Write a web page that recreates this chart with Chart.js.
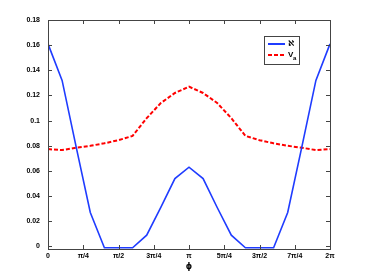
<!DOCTYPE html>
<html>
<head>
<meta charset="utf-8">
<script src="https://cdn.jsdelivr.net/npm/chart.js@4.4.0/dist/chart.umd.min.js"></script>
<style>
  html, body { margin: 0; padding: 0; background: #fff; }
  #wrap { width: 366px; height: 280px; }
</style>
</head>
<body>
<div id="wrap"><canvas id="myChart" width="366" height="280"></canvas></div>
<script>
// phi sample points, as multiples of pi
var phiOverPi = [0, 0.1, 0.2, 0.3, 0.4, 0.5, 0.6, 0.7, 0.8, 0.9, 1.0,
                 1.1, 1.2, 1.3, 1.4, 1.5, 1.6, 1.7, 1.8, 1.9, 2.0];
var alephValues = [0.161, 0.132, 0.079, 0.027, -0.001, -0.001, -0.001, 0.009, 0.031, 0.054, 0.063,
                   0.054, 0.031, 0.009, -0.001, -0.001, -0.001, 0.027, 0.079, 0.132, 0.161];
var vaValues = [0.0774, 0.0766, 0.0785, 0.0800, 0.0820, 0.0845, 0.0879, 0.1020, 0.1140, 0.1220, 0.1270,
                0.1220, 0.1140, 0.1020, 0.0879, 0.0845, 0.0820, 0.0800, 0.0785, 0.0766, 0.0774];
var xTickQuarters = [0, 1, 2, 3, 4, 5, 6, 7, 8];
var xTickLabels = ["0", "\u03c0/4", "\u03c0/2", "3\u03c0/4", "\u03c0", "5\u03c0/4", "3\u03c0/2", "7\u03c0/4", "2\u03c0"];
var yTicks = [0, 0.02, 0.04, 0.06, 0.08, 0.1, 0.12, 0.14, 0.16, 0.18];

function pts(vals) {
  return vals.map(function (v, i) { return {x: phiOverPi[i] * Math.PI, y: v}; });
}

var tickFont = {family: "'Liberation Sans', Arial, sans-serif", size: 7, weight: "bold"};

// matlab style box + inward ticks + legend
var boxPlugin = {
  id: "box",
  afterDraw: function (chart) {
    var ctx = chart.ctx, a = chart.chartArea;
    var xs = chart.scales.x, ys = chart.scales.y;
    ctx.save();
    ctx.strokeStyle = "#444";
    ctx.lineWidth = 1;
    ctx.strokeRect(Math.round(a.left) + 0.5, Math.round(a.top) + 0.5,
                   Math.round(a.right - a.left), Math.round(a.bottom - a.top));
    ctx.beginPath();
    xTickQuarters.forEach(function (q) {
      var px = Math.round(xs.getPixelForValue(q * Math.PI / 4)) + 0.5;
      ctx.moveTo(px, a.bottom); ctx.lineTo(px, a.bottom - 4);
      ctx.moveTo(px, a.top); ctx.lineTo(px, a.top + 4);
    });
    yTicks.forEach(function (t) {
      var py = Math.round(ys.getPixelForValue(t)) + 0.5;
      ctx.moveTo(a.left, py); ctx.lineTo(a.left + 4, py);
      ctx.moveTo(a.right, py); ctx.lineTo(a.right - 4, py);
    });
    ctx.stroke();

    // legend
    var lx = 264, ly = 36, lw = 35, lh = 28;
    ctx.fillStyle = "#fff";
    ctx.fillRect(lx, ly, lw, lh);
    ctx.strokeStyle = "#444";
    ctx.strokeRect(lx + 0.5, ly + 0.5, lw, lh);
    ctx.lineWidth = 2;
    ctx.strokeStyle = "#1f3cff";
    ctx.beginPath(); ctx.moveTo(lx + 4, ly + 8); ctx.lineTo(lx + 21, ly + 8); ctx.stroke();
    ctx.strokeStyle = "#ff0000";
    ctx.setLineDash([4, 2]);
    ctx.beginPath(); ctx.moveTo(lx + 4, ly + 19); ctx.lineTo(lx + 21, ly + 19); ctx.stroke();
    ctx.setLineDash([]);
    ctx.fillStyle = "#000";
    ctx.font = "bold 8px 'DejaVu Sans', sans-serif";
    ctx.textBaseline = "middle";
    ctx.fillText("\u2135", lx + 24, ly + 8);
    ctx.font = "bold 8px 'Liberation Sans', sans-serif";
    ctx.fillText("V", lx + 24, ly + 19);
    ctx.font = "bold 6px 'Liberation Sans', sans-serif";
    ctx.fillText("a", lx + 29, ly + 22);
    ctx.restore();
  }
};

new Chart("myChart", {
  type: "line",
  data: {
    datasets: [{
      label: "\u2135",
      data: pts(alephValues),
      borderColor: "#1f3cff",
      borderWidth: 1.6,
      pointRadius: 0,
      tension: 0
    }, {
      label: "Va",
      data: pts(vaValues),
      borderColor: "#ff0000",
      borderWidth: 2,
      borderDash: [4, 2],
      pointRadius: 0,
      tension: 0
    }]
  },
  plugins: [boxPlugin],
  options: {
    responsive: false,
    animation: false,
    layout: {padding: {top: 20, right: 36, left: 0, bottom: 8}},
    plugins: {legend: {display: false}, tooltip: {enabled: false}},
    scales: {
      x: {
        type: "linear",
        min: 0,
        max: 2 * Math.PI,
        grid: {display: false, drawTicks: false},
        border: {display: false},
        afterBuildTicks: function (s) {
          s.ticks = xTickQuarters.map(function (q) { return {value: q * Math.PI / 4}; });
        },
        afterFit: function (s) { s.height = 23; },
        ticks: {
          color: "#000",
          font: tickFont,
          padding: 3,
          maxRotation: 0,
          autoSkip: false,
          callback: function (v, i) { return xTickLabels[i]; }
        },
        title: {display: true, text: "\u03d5", color: "#000", font: {family: "'DejaVu Sans', sans-serif", size: 8, weight: "bold"}, padding: {top: 1, bottom: 0}}
      },
      y: {
        min: -0.002,
        max: 0.18,
        grid: {display: false, drawTicks: false},
        border: {display: false},
        afterBuildTicks: function (s) {
          s.ticks = yTicks.map(function (t) { return {value: t}; });
        },
        afterFit: function (s) { s.width = 48; },
        ticks: {
          color: "#000",
          font: tickFont,
          padding: 8,
          autoSkip: false,
          callback: function (v) { return String(Math.round(v * 100) / 100); }
        }
      }
    }
  }
});
</script>
</body>
</html>
